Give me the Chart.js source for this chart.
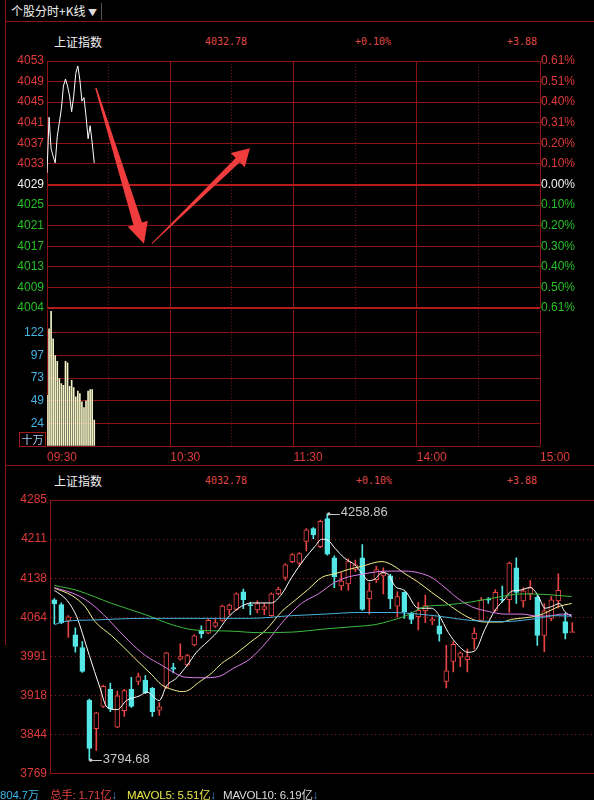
<!DOCTYPE html>
<html>
<head>
<meta charset="utf-8">
<script src="https://cdn.jsdelivr.net/npm/chart.js@4.4.1/dist/chart.umd.min.js"></script>
<style>
  body { margin: 0; background: #000; }
  #wrap { position: relative; width: 594px; height: 800px; overflow: hidden; background: #000; font-family: Arial, "Liberation Sans", sans-serif; }
  canvas { position: absolute; left: 0; }
  .abs { position: absolute; white-space: nowrap; line-height: 14px; }
  .hl { position: absolute; height: 1px; background: #8b1515; }
  .vl { position: absolute; width: 1px; background: #8b1515; }
  .cn { font-family: "Noto Sans CJK SC", sans-serif; color: #f0f0f0; font-size: 12px; }
  .mono { font-family: "DejaVu Sans Mono", monospace; font-size: 10px; color: #e04848; }
  .st { font-size: 11.5px; line-height: 14px; letter-spacing: -0.2px; }
</style>
</head>
<body>
<div id="wrap">
  <div class="hl" style="left:5px;top:21px;width:589px"></div>
  <div class="vl" style="left:5px;top:0;height:645px"></div>
  <div class="vl" style="left:101px;top:3px;height:17px;background:#555"></div>
  <div class="hl" style="left:5px;top:465px;width:589px"></div>
  <div class="abs cn" style="left:11px;top:4px">个股分时+K线 <span style="font-size:9px;color:#ddd">▼</span></div>

  <div class="abs cn" style="left:54px;top:35px">上证指数</div>
  <div class="abs mono" style="left:205px;top:35px">4032.78</div>
  <div class="abs mono" style="left:355px;top:35px">+0.10%</div>
  <div class="abs mono" style="left:507px;top:35px">+3.88</div>

  <div class="abs cn" style="left:54px;top:474px">上证指数</div>
  <div class="abs mono" style="left:205px;top:474px">4032.78</div>
  <div class="abs mono" style="left:356px;top:474px">+0.10%</div>
  <div class="abs mono" style="left:507px;top:474px">+3.88</div>

  <canvas id="priceChart" width="594" height="320" style="top:0"></canvas>
  <canvas id="volChart" width="594" height="170" style="top:300px"></canvas>
  <canvas id="klineChart" width="594" height="316" style="top:468px"></canvas>

  <div class="abs" style="left:19px;top:432px;width:25px;height:13px;border:1px solid #a01818;font-family:'Noto Sans CJK SC',sans-serif;font-size:11px;line-height:13px;color:#a8c8f0;text-align:center">十万</div>

  <div class="abs st" style="left:0;top:787px;color:#3cb4e6">804.7<span style="font-family:'Noto Sans CJK SC'">万</span></div>
  <div class="abs st" style="left:50px;top:787px;color:#e04040"><span style="font-family:'Noto Sans CJK SC'">总手</span>: 1.71<span style="font-family:'Noto Sans CJK SC'">亿</span><span style="color:#4a90e0">↓</span></div>
  <div class="abs st" style="left:127px;top:787px;color:#e8e84a">MAVOL5: 5.51<span style="font-family:'Noto Sans CJK SC'">亿</span><span style="color:#4a90e0">↓</span></div>
  <div class="abs st" style="left:223px;top:787px;color:#dcdcdc">MAVOL10: 6.19<span style="font-family:'Noto Sans CJK SC'">亿</span><span style="color:#4a90e0">↓</span></div>
</div>

<script>
// ===================================================================
// DATA
// ===================================================================

// intraday (minutes after 09:30)
const minuteIdx = [0, 1, 2, 3, 4, 5, 6, 7, 8, 9, 10, 11, 12, 13, 14, 15, 16, 17, 18, 19, 20, 21, 22, 23];
const minutePrice = [4031.2, 4042.3, 4036.0, 4034.5, 4033.2, 4038.5, 4041.2, 4044.0, 4048.5, 4049.9, 4048.5, 4046.5,
  4043.4, 4046.5, 4051.0, 4052.5, 4049.7, 4045.5, 4046.2, 4042.5, 4038.0, 4040.6, 4037.2, 4033.2];
const minuteVol = [54.6, 126, 145, 115.3, 97.4, 91, 72.5, 67.1, 65.3, 91, 89.6, 64.2,
  70.6, 62.8, 52.8, 59.2, 56.4, 47.4, 41.4, 48.5, 59.2, 60.7, 60.7, 27.8];

const priceTicks = ['4004', '4009', '4013', '4017', '4021', '4025', '4029', '4033', '4037', '4041', '4045', '4049', '4053'];
const pctTicks = ['0.61%', '0.50%', '0.40%', '0.30%', '0.20%', '0.10%', '0.00%', '0.10%', '0.20%', '0.31%', '0.40%', '0.51%', '0.61%'];
const volTicks = ['', '24', '49', '73', '97', '122', ''];
const timeTicks = ['09:30', '10:30', '11:30', '14:00', '15:00'];

const priceMin = 4004.32, priceMax = 4053.48;
const volStep = 24.35;

// hand-drawn arrows on the intraday panel: [minute, price]
const arrowFrom = [[23.8, 4048.1], [51.0, 4017.1]];
const arrowTo = [[47.2, 4017.1], [98.8, 4036.1]];

// daily candles
const candleOpen = [4097, 4088, 4058, 4031, 4007, 3908, 3854, 3896, 3928, 3857, 3888, 3928, 3943, 3945, 3930, 3889, 3932, 3969, 3985, 3974,
  4012, 4040, 4034, 4047, 4058, 4078, 4079, 4112, 4088, 4078, 4079, 4067, 4108, 4139, 4169, 4166, 4207, 4231, 4197, 4250,
  4176, 4123, 4127, 4154, 4176, 4099, 4135, 4142, 4142, 4085, 4111, 4071, 4065, 4076, 4057, 4048, 3943, 3981, 3989, 3984,
  4023, 4058, 4098, 4077, 4098, 4097, 4157, 4095, 4108, 4102, 4030, 4062, 4095, 4056, 4035];
const candleClose = [4089, 4054, 4065, 4009, 3962, 3817, 3884, 3934, 3891, 3916, 3926, 3896, 3952, 3922, 3886, 3895, 3997, 3966, 3990, 3992,
  4029, 4033, 4058, 4054, 4085, 4087, 4108, 4097, 4086, 4090, 4084, 4108, 4117, 4163, 4182, 4184, 4229, 4219, 4245, 4183,
  4140, 4132, 4169, 4163, 4079, 4114, 4154, 4148, 4099, 4103, 4074, 4060, 4077, 4086, 4060, 4032, 3963, 4013, 3997, 3990,
  4034, 4097, 4096, 4111, 4096, 4166, 4111, 4114, 4120, 4030, 4076, 4097, 4115, 4034, 4036];
const candleHigh = [4099, 4091, 4067, 4044, 4018, 3910, 3885, 3936, 3940, 3925, 3928, 3951, 3959, 3954, 3932, 3903, 3998, 3977, 4014, 3994,
  4031, 4048, 4060, 4061, 4087, 4089, 4110, 4117, 4092, 4095, 4090, 4110, 4121, 4165, 4184, 4186, 4231, 4233, 4247, 4258.86,
  4180, 4148, 4174, 4172, 4201, 4129, 4160, 4157, 4145, 4112, 4112, 4074, 4092, 4106, 4065, 4067, 4011, 4018, 3999, 4004,
  4044, 4101, 4101, 4116, 4123, 4168, 4176, 4120, 4133, 4105, 4090, 4103, 4146, 4072, 4054];
const candleLow = [4052, 4052, 4026, 3998, 3960, 3794.68, 3813, 3894, 3886, 3856, 3877, 3894, 3937, 3920, 3877, 3879, 3930, 3959, 3983, 3972,
  4010, 4025, 4033, 4045, 4056, 4069, 4077, 4080, 4069, 4072, 4069, 4066, 4106, 4134, 4167, 4160, 4189, 4212, 4195, 4181,
  4120, 4115, 4115, 4150, 4077, 4070, 4129, 4108, 4080, 4064, 4062, 4052, 4040, 4054, 4050, 4019, 3931, 3961, 3971, 3961,
  4004, 4057, 4090, 4075, 4092, 4073, 4090, 4083, 4097, 4011, 3999, 4057, 4081, 4023, 4035];

// moving averages: [candle index, value]
const ma5 = [[0, 4115], [1.8, 4096], [3.2, 4065], [4, 4034], [5, 3992], [6.5, 3932], [7.5, 3895], [9, 3890], [10.3, 3907], [12.2, 3916],
  [13.2, 3923], [15, 3907], [16, 3934], [17.5, 3950], [19, 3974], [20.3, 3998], [21.8, 4017], [23.2, 4035], [24.7, 4062], [26.3, 4081],
  [28.2, 4091], [31, 4091], [32.5, 4108], [33.9, 4139], [35.8, 4175], [37.2, 4197], [38.2, 4211], [39.1, 4209], [40.1, 4194], [41.5, 4175],
  [42.9, 4163], [43.9, 4148], [44.9, 4133], [45.8, 4136], [46.8, 4148], [47.7, 4145], [48.7, 4122], [49.6, 4117], [50.1, 4114], [52, 4081],
  [53.9, 4081], [54.9, 4069], [56.3, 4035], [57.7, 4011], [59.1, 3998], [60.1, 4001], [61.5, 4041], [63, 4078], [64.4, 4099], [65.3, 4113],
  [66.5, 4115], [68, 4120], [69.1, 4105], [70.1, 4081], [71, 4084], [72.2, 4090], [72.9, 4075], [73.9, 4066]];
const ma10 = [[0, 4119], [2.5, 4105], [4.4, 4084], [5.8, 4056], [8.2, 4029], [10.1, 4005], [12, 3980], [13.9, 3956], [15.3, 3937], [16.8, 3928],
  [18.2, 3924], [19.1, 3926], [20.6, 3941], [22.5, 3959], [23.9, 3977], [25.6, 3992], [28, 4017], [30.3, 4041], [32.5, 4075], [34.4, 4096],
  [36.3, 4117], [38.2, 4139], [40.1, 4146], [42, 4154], [43.9, 4160], [46.8, 4169], [48.2, 4163], [50.1, 4146], [52, 4130], [53.9, 4111],
  [55.8, 4093], [57.7, 4075], [59.6, 4061], [61.5, 4055], [63.9, 4055], [65.3, 4060], [67.2, 4063], [69.1, 4067], [70.6, 4075], [72, 4084],
  [73.9, 4090]];
const ma20 = [[0, 4120], [3.4, 4105], [5.8, 4084], [8.2, 4053], [10.6, 4020], [13, 3992], [15.3, 3974], [16.8, 3962], [18.7, 3951], [21.1, 3950],
  [23.4, 3952], [25.6, 3968], [28, 3986], [30.3, 4017], [32.8, 4058], [35.3, 4090], [37.7, 4108], [40.1, 4130], [42, 4140], [43.9, 4145],
  [46.3, 4150], [48.2, 4151], [50.1, 4151], [52, 4148], [53.9, 4139], [55.8, 4120], [57.7, 4099], [59.6, 4084], [62, 4075], [64.4, 4070],
  [66.8, 4070], [69.1, 4066], [71, 4067], [72.5, 4070], [73.9, 4069]];
const ma60 = [[0, 4124], [3.4, 4114], [8.2, 4090], [13, 4069], [16.8, 4050], [20.1, 4040], [25.1, 4038], [29.2, 4035], [33.9, 4036], [38.7, 4042],
  [43.4, 4047], [45.8, 4050], [48.2, 4058], [50.1, 4066], [53, 4084], [55.8, 4087], [59.6, 4093], [63.4, 4102], [66.8, 4108], [70.1, 4107],
  [73.9, 4103]];
const ma120 = [[0, 4050], [1.5, 4056], [5.8, 4059], [13, 4062], [20.1, 4062], [28, 4062], [33.9, 4067], [38.7, 4070], [43.4, 4073], [48.2, 4073],
  [52, 4070], [54.9, 4066], [59.6, 4058], [64.4, 4056], [69.1, 4062], [71.5, 4067], [73.9, 4066]];

const klineTicks = ['3769', '3844', '3918', '3991', '4064', '4138', '4211', '4285'];
const klineMin = 3769, klineMax = 4285;

// ===================================================================
// THEME
// ===================================================================
const colors = {
  grid: '#8b1515',
  gridHot: '#b41c1c',
  gridDim: '#6a1414',
  red: '#e03a3a',
  green: '#26c026',
  white: '#f0f0f0',
  cyanTick: '#44b4e4',
  candleUp: '#e84444',
  candleDown: '#55e6e6',
  arrow: '#f03c3c'
};
const tickFont = { family: 'Arial, "Liberation Sans", sans-serif', size: 12 };

Chart.defaults.animation = false;
Chart.defaults.plugins.legend.display = false;
Chart.defaults.plugins.tooltip.enabled = false;

function evenTicks(labels, min, max) {
  return function (scale) {
    scale.ticks = labels.map((_, i) => ({ value: min + i * (max - min) / (labels.length - 1) }));
  };
}

function priceTickColor(ctx) {
  if (ctx.index === 6) return colors.white;
  return ctx.index < 6 ? colors.green : colors.red;
}

const timeGrid = {
  offset: false,
  color: ctx => (ctx.tick && ctx.tick.value % 60 === 0) ? colors.grid : colors.gridDim,
  drawTicks: false
};
const timeBorder = {
  display: false,
  dash: ctx => (ctx.tick && ctx.tick.value % 60 === 0) ? [] : [1, 2]
};

// ===================================================================
// ARROW PLUGIN (drawing overlay on intraday panel)
// ===================================================================
const arrowPlugin = {
  id: 'arrows',
  afterDatasetsDraw(chart) {
    const { ctx, scales: { x, y } } = chart;
    const shapes = [{ tail: 1.5, neck: 9, headW: 21, headL: 21 }, { tail: 0.8, neck: 6, headW: 20, headL: 17 }];
    ctx.save();
    ctx.fillStyle = colors.arrow;
    arrowFrom.forEach((f, i) => {
      const s = shapes[i];
      const fx = x.getPixelForValue(f[0]), fy = y.getPixelForValue(f[1]);
      const tx = x.getPixelForValue(arrowTo[i][0]), ty = y.getPixelForValue(arrowTo[i][1]);
      const len = Math.hypot(tx - fx, ty - fy);
      const dx = (tx - fx) / len, dy = (ty - fy) / len;
      const nx = -dy, ny = dx;
      const bx = tx - dx * s.headL, by = ty - dy * s.headL;
      ctx.beginPath();
      ctx.moveTo(fx + nx * s.tail / 2, fy + ny * s.tail / 2);
      ctx.lineTo(bx + nx * s.neck / 2, by + ny * s.neck / 2);
      ctx.lineTo(bx + nx * s.headW / 2, by + ny * s.headW / 2);
      ctx.lineTo(tx, ty);
      ctx.lineTo(bx - nx * s.headW / 2, by - ny * s.headW / 2);
      ctx.lineTo(bx - nx * s.neck / 2, by - ny * s.neck / 2);
      ctx.lineTo(fx - nx * s.tail / 2, fy - ny * s.tail / 2);
      ctx.closePath();
      ctx.fill();
    });
    ctx.restore();
  }
};

// ===================================================================
// 1. INTRADAY PRICE
// ===================================================================
new Chart(document.getElementById('priceChart'), {
  type: 'line',
  data: {
    datasets: [{
      data: minuteIdx.map((t, i) => ({ x: t, y: minutePrice[i] })),
      borderColor: '#ffffff',
      borderWidth: 1,
      pointRadius: 0,
      tension: 0
    }]
  },
  options: {
    responsive: false,
    layout: { padding: { top: 61, bottom: 12, left: 0, right: 0 } },
    scales: {
      x: {
        type: 'linear', min: 0, max: 240, offset: false,
        ticks: { display: false, stepSize: 30 },
        grid: timeGrid,
        border: timeBorder,
        afterFit: s => { s.height = 0; }
      },
      y: {
        position: 'left', min: priceMin, max: priceMax,
        afterBuildTicks: evenTicks(priceTicks, priceMin, priceMax),
        ticks: {
          autoSkip: false, padding: 3, font: tickFont,
          color: priceTickColor,
          callback: (v, i) => priceTicks[i]
        },
        grid: {
          drawTicks: false,
          color: ctx => (ctx.index === 0 || ctx.index === 6) ? colors.gridHot : colors.grid,
          lineWidth: ctx => (ctx.index === 0 || ctx.index === 6) ? 2 : 1
        },
        border: { color: colors.grid },
        afterFit: s => { s.width = 47; }
      },
      yr: {
        position: 'right', min: priceMin, max: priceMax,
        afterBuildTicks: evenTicks(pctTicks, priceMin, priceMax),
        ticks: {
          autoSkip: false, padding: 1, font: tickFont,
          color: priceTickColor,
          callback: (v, i) => pctTicks[i]
        },
        grid: { display: false, drawTicks: false },
        border: { display: false },
        afterFit: s => { s.width = 54; }
      }
    }
  },
  plugins: [arrowPlugin]
});

// ===================================================================
// 2. INTRADAY VOLUME
// ===================================================================
new Chart(document.getElementById('volChart'), {
  type: 'bar',
  data: {
    datasets: [{
      data: minuteIdx.map((t, i) => ({ x: t, y: minuteVol[i] })),
      backgroundColor: '#f2f2c4',
      barThickness: 1
    }]
  },
  options: {
    responsive: false,
    layout: { padding: { top: 8, bottom: 0, left: 0, right: 54 } },
    scales: {
      x: {
        type: 'linear', min: 0, max: 240, offset: false,
        ticks: {
          stepSize: 30, autoSkip: false, maxRotation: 0, align: 'start', padding: 4,
          color: colors.red, font: tickFont,
          callback: v => v % 60 === 0 ? timeTicks[v / 60] : ''
        },
        grid: timeGrid,
        border: timeBorder,
        afterFit: s => { s.height = 24; }
      },
      y: {
        min: 0, max: volStep * 6,
        afterBuildTicks: s => { s.ticks = volTicks.map((_, i) => ({ value: i * volStep })); },
        ticks: {
          autoSkip: false, padding: 3, font: tickFont, color: colors.cyanTick,
          callback: (v, i) => volTicks[i]
        },
        grid: {
          drawTicks: false,
          color: ctx => ctx.index === 6 ? 'rgba(0,0,0,0)' : colors.grid
        },
        border: { color: colors.grid },
        afterFit: s => { s.width = 47; }
      }
    }
  }
});

// ===================================================================
// 3. DAILY K-LINE
// ===================================================================
const isUp = i => candleClose[i] >= candleOpen[i];

const extremePlugin = {
  id: 'extremes',
  afterDatasetsDraw(chart) {
    const { ctx, scales: { x, y } } = chart;
    const hi = candleHigh.indexOf(Math.max(...candleHigh));
    const lo = candleLow.indexOf(Math.min(...candleLow));
    ctx.save();
    ctx.font = '13px Arial, "Liberation Sans", sans-serif';
    ctx.fillStyle = '#c8c8c8';
    ctx.strokeStyle = '#c8c8c8';
    ctx.lineWidth = 1;
    ctx.textBaseline = 'middle';
    [[hi, candleHigh[hi]], [lo, candleLow[lo]]].forEach(([i, v]) => {
      const px = x.getPixelForValue(i) + 1.5;
      const py = y.getPixelForValue(v);
      ctx.beginPath();
      ctx.arc(px, py, 1.6, 0, Math.PI * 2);
      ctx.fill();
      ctx.beginPath();
      ctx.moveTo(px, Math.round(py) + 0.5);
      ctx.lineTo(px + 11, Math.round(py) + 0.5);
      ctx.stroke();
      ctx.fillText(v.toFixed(2), px + 12, py - 1);
    });
    ctx.restore();
  }
};

function maLine(points, color) {
  return {
    type: 'line',
    data: points.map(p => ({ x: p[0], y: p[1] })),
    borderColor: color,
    borderWidth: 1,
    pointRadius: 0,
    cubicInterpolationMode: 'monotone',
    order: 0
  };
}

new Chart(document.getElementById('klineChart'), {
  type: 'bar',
  data: {
    datasets: [
      maLine(ma120, '#48b4dc'),
      maLine(ma60, '#3cbc3c'),
      maLine(ma20, '#dc7ce8'),
      maLine(ma10, '#f4f08c'),
      maLine(ma5, '#ffffff'),
      {
        // candle bodies
        data: candleOpen.map((o, i) => ({ x: i, y: [o, candleClose[i]] })),
        backgroundColor: ctx => isUp(ctx.dataIndex) ? '#000000' : colors.candleDown,
        borderColor: ctx => isUp(ctx.dataIndex) ? colors.candleUp : colors.candleDown,
        borderWidth: 1,
        borderSkipped: false,
        minBarLength: 1,
        barThickness: 5,
        grouped: false,
        order: 1
      },
      {
        // wicks
        data: candleLow.map((l, i) => ({ x: i, y: [l, candleHigh[i]] })),
        backgroundColor: ctx => isUp(ctx.dataIndex) ? colors.candleUp : colors.candleDown,
        borderWidth: 0,
        barThickness: 1,
        grouped: false,
        order: 2
      }
    ]
  },
  options: {
    responsive: false,
    layout: { padding: { top: 32, bottom: 3, left: 0, right: 0 } },
    scales: {
      x: { type: 'linear', min: -0.62, max: 77.1, offset: false, display: false },
      y: {
        min: klineMin, max: klineMax,
        afterBuildTicks: evenTicks(klineTicks, klineMin, klineMax),
        ticks: {
          autoSkip: false, padding: 3, font: tickFont, color: colors.red,
          callback: (v, i) => klineTicks[i]
        },
        grid: {
          drawTicks: false,
          color: ctx => (ctx.index === 0 || ctx.index === klineTicks.length - 1) ? colors.grid : '#8a1a1a'
        },
        border: {
          color: colors.grid,
          dash: ctx => (ctx.index === 0 || ctx.index === klineTicks.length - 1) ? [] : [1, 3]
        },
        afterFit: s => { s.width = 50; }
      }
    }
  },
  plugins: [extremePlugin]
});
</script>
</body>
</html>
